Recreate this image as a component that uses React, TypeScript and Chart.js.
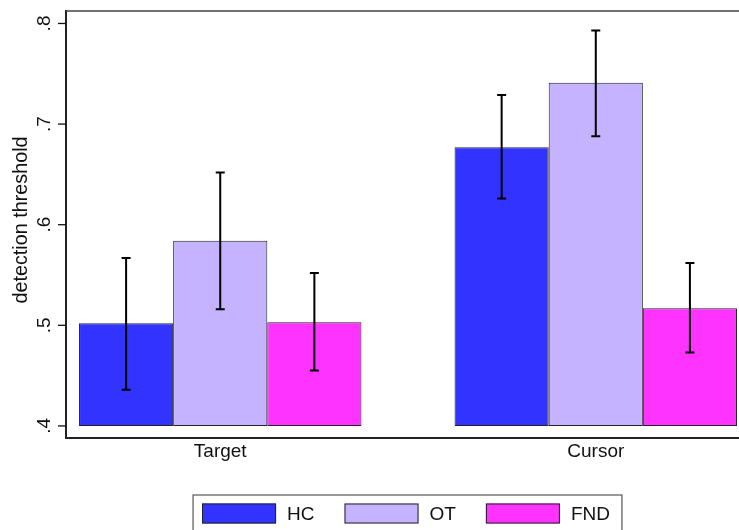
import React, { useEffect, useRef } from 'react';
import { Chart, registerables } from 'chart.js';

Chart.register(...registerables);

const categories = ['Target', 'Cursor'];
const seriesNames = ['HC', 'OT', 'FND'];
const hcMean = [0.502, 0.677];
const hcLow = [0.436, 0.626];
const hcHigh = [0.567, 0.729];
const otMean = [0.584, 0.741];
const otLow = [0.516, 0.688];
const otHigh = [0.652, 0.793];
const fndMean = [0.503, 0.517];
const fndLow = [0.455, 0.473];
const fndHigh = [0.552, 0.562];
const yTicks = [0.4, 0.5, 0.6, 0.7, 0.8];
const yTitle = 'detection threshold';
const barBase = 0.4;

const colors = ['#3333ff', '#c6b3ff', '#ff33ff'];
const FONT = '"Liberation Sans", Arial, Helvetica, sans-serif';

const fmtTick = (v: number) => v.toFixed(1).replace(/^0\./, '.');

const errorBarsPlugin = {
  id: 'errorBars',
  afterDatasetsDraw(chart: any) {
    const { ctx } = chart;
    const yScale = chart.scales.y;
    ctx.save();
    ctx.strokeStyle = '#000';
    ctx.lineWidth = 2;
    chart.data.datasets.forEach((ds: any, i: number) => {
      const meta = chart.getDatasetMeta(i);
      meta.data.forEach((bar: any, j: number) => {
        const x = bar.x;
        const yh = yScale.getPixelForValue(ds.errHigh[j]);
        const yl = yScale.getPixelForValue(ds.errLow[j]);
        ctx.beginPath();
        ctx.moveTo(x, yh);
        ctx.lineTo(x, yl);
        ctx.moveTo(x - 4.5, yh);
        ctx.lineTo(x + 4.5, yh);
        ctx.moveTo(x - 4.5, yl);
        ctx.lineTo(x + 4.5, yl);
        ctx.stroke();
      });
    });
    ctx.restore();
  },
};

const framePlugin = {
  id: 'frame',
  afterDraw(chart: any) {
    const { ctx, chartArea } = chart;
    ctx.save();
    ctx.strokeStyle = '#444';
    ctx.lineWidth = 1.5;
    ctx.beginPath();
    ctx.moveTo(chartArea.left, chartArea.top);
    ctx.lineTo(chartArea.right, chartArea.top);
    ctx.lineTo(chartArea.right, chartArea.bottom);
    ctx.stroke();
    ctx.restore();
  },
};

const legendPlugin = {
  id: 'boxLegend',
  afterDraw(chart: any) {
    const { ctx, chartArea } = chart;
    const fontSize = 19;
    const sw = 74;
    const sh = 20;
    const textGap = 11;
    const itemGap = 30;
    const padL = 9;
    const padR = 12;
    ctx.save();
    ctx.font = `${fontSize}px ${FONT}`;
    const labels = chart.data.datasets.map((d: any) => d.label);
    const widths = labels.map((l: string) => ctx.measureText(l).width);
    const itemsW =
      widths.reduce((a: number, w: number) => a + sw + textGap + w, 0) + itemGap * (labels.length - 1);
    const boxW = padL + itemsW + padR;
    const cx = (chartArea.left + chartArea.right) / 2;
    const boxL = cx - boxW / 2;
    const boxT = 495;
    const swT = 503.5;
    ctx.strokeStyle = '#555';
    ctx.lineWidth = 1.2;
    ctx.strokeRect(boxL, boxT, boxW, 40);
    let x = boxL + padL;
    labels.forEach((l: string, i: number) => {
      ctx.fillStyle = chart.data.datasets[i].backgroundColor;
      ctx.fillRect(x, swT, sw, sh);
      ctx.strokeStyle = '#222';
      ctx.lineWidth = 1;
      ctx.strokeRect(x + 0.5, swT + 0.5, sw - 1, sh - 1);
      ctx.fillStyle = '#111';
      ctx.textBaseline = 'alphabetic';
      ctx.textAlign = 'left';
      ctx.fillText(l, x + sw + textGap, 520);
      x += sw + textGap + widths[i] + itemGap;
    });
    ctx.restore();
  },
};

// y tick marks, rotated tick labels and axis title, drawn from the y scale's own ticks
const yAxisPlugin = {
  id: 'yAxisDecor',
  afterDraw(chart: any) {
    const { ctx } = chart;
    const yScale = chart.scales.y;
    const axisX = yScale.right;
    ctx.save();
    ctx.strokeStyle = '#111';
    ctx.lineWidth = 1.3;
    ctx.font = `19px ${FONT}`;
    ctx.fillStyle = '#111';
    ctx.textAlign = 'center';
    ctx.textBaseline = 'alphabetic';
    yScale.ticks.forEach((t: any) => {
      const y = yScale.getPixelForValue(t.value);
      ctx.beginPath();
      ctx.moveTo(axisX - 8, y);
      ctx.lineTo(axisX, y);
      ctx.stroke();
      ctx.save();
      ctx.translate(axisX - 16, y);
      ctx.rotate(-Math.PI / 2);
      ctx.fillText(fmtTick(t.value), 0, 0);
      ctx.restore();
    });
    ctx.font = `19.8px ${FONT}`;
    ctx.save();
    ctx.translate(27, (yScale.top + yScale.bottom) / 2 - 4.5);
    ctx.rotate(-Math.PI / 2);
    ctx.fillText(yTitle, 0, 0);
    ctx.restore();
    ctx.restore();
  },
};

export default function App() {
  const ref = useRef<HTMLCanvasElement>(null);
  useEffect(() => {
    Chart.defaults.font.family = FONT;
    const means = [hcMean, otMean, fndMean];
    const lows = [hcLow, otLow, fndLow];
    const highs = [hcHigh, otHigh, fndHigh];
    const datasets = seriesNames.map((name, i) => ({
      label: name,
      data: categories.map((_, j) => ({ x: j, y: means[i][j] })),
      backgroundColor: colors[i],
      borderColor: '#222',
      borderWidth: 1,
      borderSkipped: false,
      base: barBase,
      categoryPercentage: 0.752,
      barPercentage: 1,
      errLow: lows[i],
      errHigh: highs[i],
    }));
    const chart = new Chart(ref.current as HTMLCanvasElement, {
      type: 'bar',
      data: { datasets } as any,
      options: {
        animation: false,
        responsive: false,
        devicePixelRatio: 1,
        layout: { padding: { top: 11, right: 3, left: 0, bottom: 0 } },
        plugins: { legend: { display: false }, tooltip: { enabled: false } },
        scales: {
          x: {
            type: 'linear',
            offset: false,
            min: -0.4107,
            max: 1.408,
            grid: { display: false, drawTicks: false },
            border: { display: true, color: '#222', width: 2 },
            afterBuildTicks: (s: any) => {
              s.ticks = categories.map((_, j) => ({ value: j }));
            },
            afterFit: (s: any) => {
              s.height = 92;
            },
            ticks: {
              callback: (v: any) => categories[v] ?? '',
              font: { size: 19 },
              color: '#111',
              padding: 2,
              maxRotation: 0,
              autoSkip: false,
            },
          },
          y: {
            type: 'linear',
            min: 0.388,
            max: 0.8124,
            grid: { display: false, drawTicks: false },
            border: { display: true, color: '#222', width: 2 },
            afterBuildTicks: (s: any) => {
              s.ticks = yTicks.map((v) => ({ value: v }));
            },
            afterFit: (s: any) => {
              s.width = 66;
            },
            ticks: { display: false },
            title: { display: false, text: yTitle },
          },
        },
      } as any,
      plugins: [errorBarsPlugin, framePlugin, legendPlugin, yAxisPlugin],
    });
    return () => chart.destroy();
  }, []);
  return (
    <div
      style={{
        position: 'fixed',
        left: 0,
        top: 0,
        width: 739,
        height: 530,
        overflow: 'hidden',
        background: '#fff',
      }}
    >
      <canvas ref={ref} width={752} height={530} style={{ display: 'block' }} />
    </div>
  );
}
